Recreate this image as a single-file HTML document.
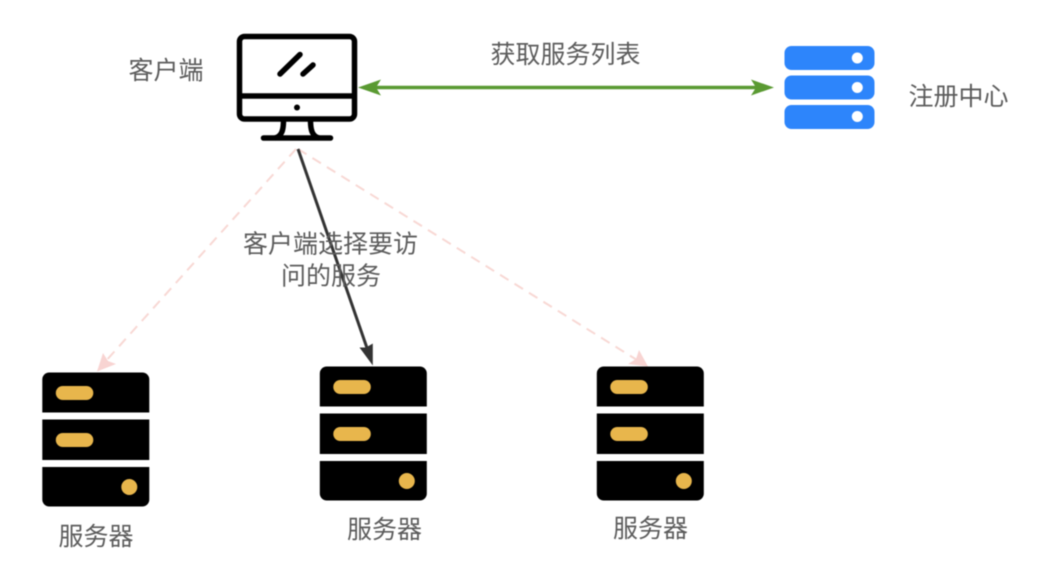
<!DOCTYPE html>
<html><head><meta charset="utf-8">
<style>html,body{margin:0;padding:0;background:#fff;width:1041px;height:586px;overflow:hidden}svg{display:block;filter:blur(0.45px)}
text{font-family:"Liberation Sans","WenQuanYi Zen Hei","Noto Sans CJK SC",sans-serif;fill:#5c5c5c;font-size:25px;text-anchor:middle}</style></head>
<body>
<svg width="1041" height="586" viewBox="0 0 1041 586" xmlns="http://www.w3.org/2000/svg">
<defs>
<g id="srv">
<path d="M0 41V8a7 7 0 0 1 7-7H100a7 7 0 0 1 7 7V41Z" fill="#000"/>
<rect x="0" y="48" width="107" height="40.500" fill="#000"/>
<path d="M0 95.500H107V128a7 7 0 0 1-7 7H7a7 7 0 0 1-7-7Z" fill="#000"/>
<rect x="13.500" y="14.500" width="37.500" height="14" rx="7" fill="#e8b64c"/>
<rect x="13.500" y="61.500" width="37.500" height="14" rx="7" fill="#e8b64c"/>
<circle cx="87" cy="115.500" r="8" fill="#e8b64c"/>
</g>
</defs>

<!-- monitor -->
<rect x="239.500" y="36.500" width="115" height="82.500" rx="5" fill="none" stroke="#000" stroke-width="5.500"/>
<path d="M239 96H355" stroke="#000" stroke-width="5.500" fill="none"/>
<circle cx="297" cy="107.500" r="3" fill="#000"/>
<path d="M280 74L300 54.500M303 74L313 65" stroke="#000" stroke-width="5.500" stroke-linecap="round" fill="none"/>
<path d="M283.500 120C283.500 130 282 136 275 138M310.500 120C310.500 130 312 136 319 138" stroke="#000" stroke-width="5.500" fill="none"/>
<path d="M263.500 138H330.500" stroke="#000" stroke-width="5.500" stroke-linecap="round" fill="none"/>

<!-- blue server -->
<rect x="784.500" y="46" width="90" height="24" rx="7" fill="#2d85fb"/>
<rect x="784.500" y="75.500" width="90" height="24" rx="7" fill="#2d85fb"/>
<rect x="784.500" y="105" width="90" height="24" rx="7" fill="#2d85fb"/>
<circle cx="857.300" cy="58" r="5.500" fill="#fff"/>
<circle cx="857.300" cy="87.500" r="5.500" fill="#fff"/>
<circle cx="857.300" cy="116.500" r="5.500" fill="#fff"/>

<!-- servers -->
<use href="#srv" x="42.300" y="371.500"/>
<use href="#srv" x="319.800" y="365.500"/>
<use href="#srv" x="596.800" y="365.500"/>

<!-- connectors -->
<path d="M372 87.500H760" stroke="#5a9a32" stroke-width="3.500" fill="none"/>
<path d="M358 87.500L381 79.500L376 87.500L381 95.500Z" fill="#5a9a32"/>
<path d="M774 87.500L751 79.500L756 87.500L751 95.500Z" fill="#5a9a32"/>

<path d="M296 149L105 362" stroke="#f8d8d4" stroke-width="2" stroke-dasharray="10 7" fill="none"/>
<path d="M97 371.500L103 353L108 361L116 364Z" fill="#f8d4d2"/>
<path d="M298 149L637 360" stroke="#f8d8d4" stroke-width="2" stroke-dasharray="10 7" fill="none"/>
<path d="M648 366.500L628 364L636 359L639 350Z" fill="#f8d4d2"/>

<path d="M298 149L367 348" stroke="#333" stroke-width="3" fill="none"/>
<path d="M372.800 365.500L359.500 347.500L366 347.500L372.800 343.500Z" fill="#333"/>

<!-- labels -->
<text x="166" y="79">客户端</text>
<text x="565.500" y="63">获取服务列表</text>
<text x="958.500" y="105">注册中心</text>
<text x="330.500" y="252.500">客户端选择要访</text>
<text x="331" y="284.500">问的服务</text>
<text x="96" y="545">服务器</text>
<text x="384.500" y="538">服务器</text>
<text x="650.500" y="537">服务器</text>
</svg>
</body></html>
